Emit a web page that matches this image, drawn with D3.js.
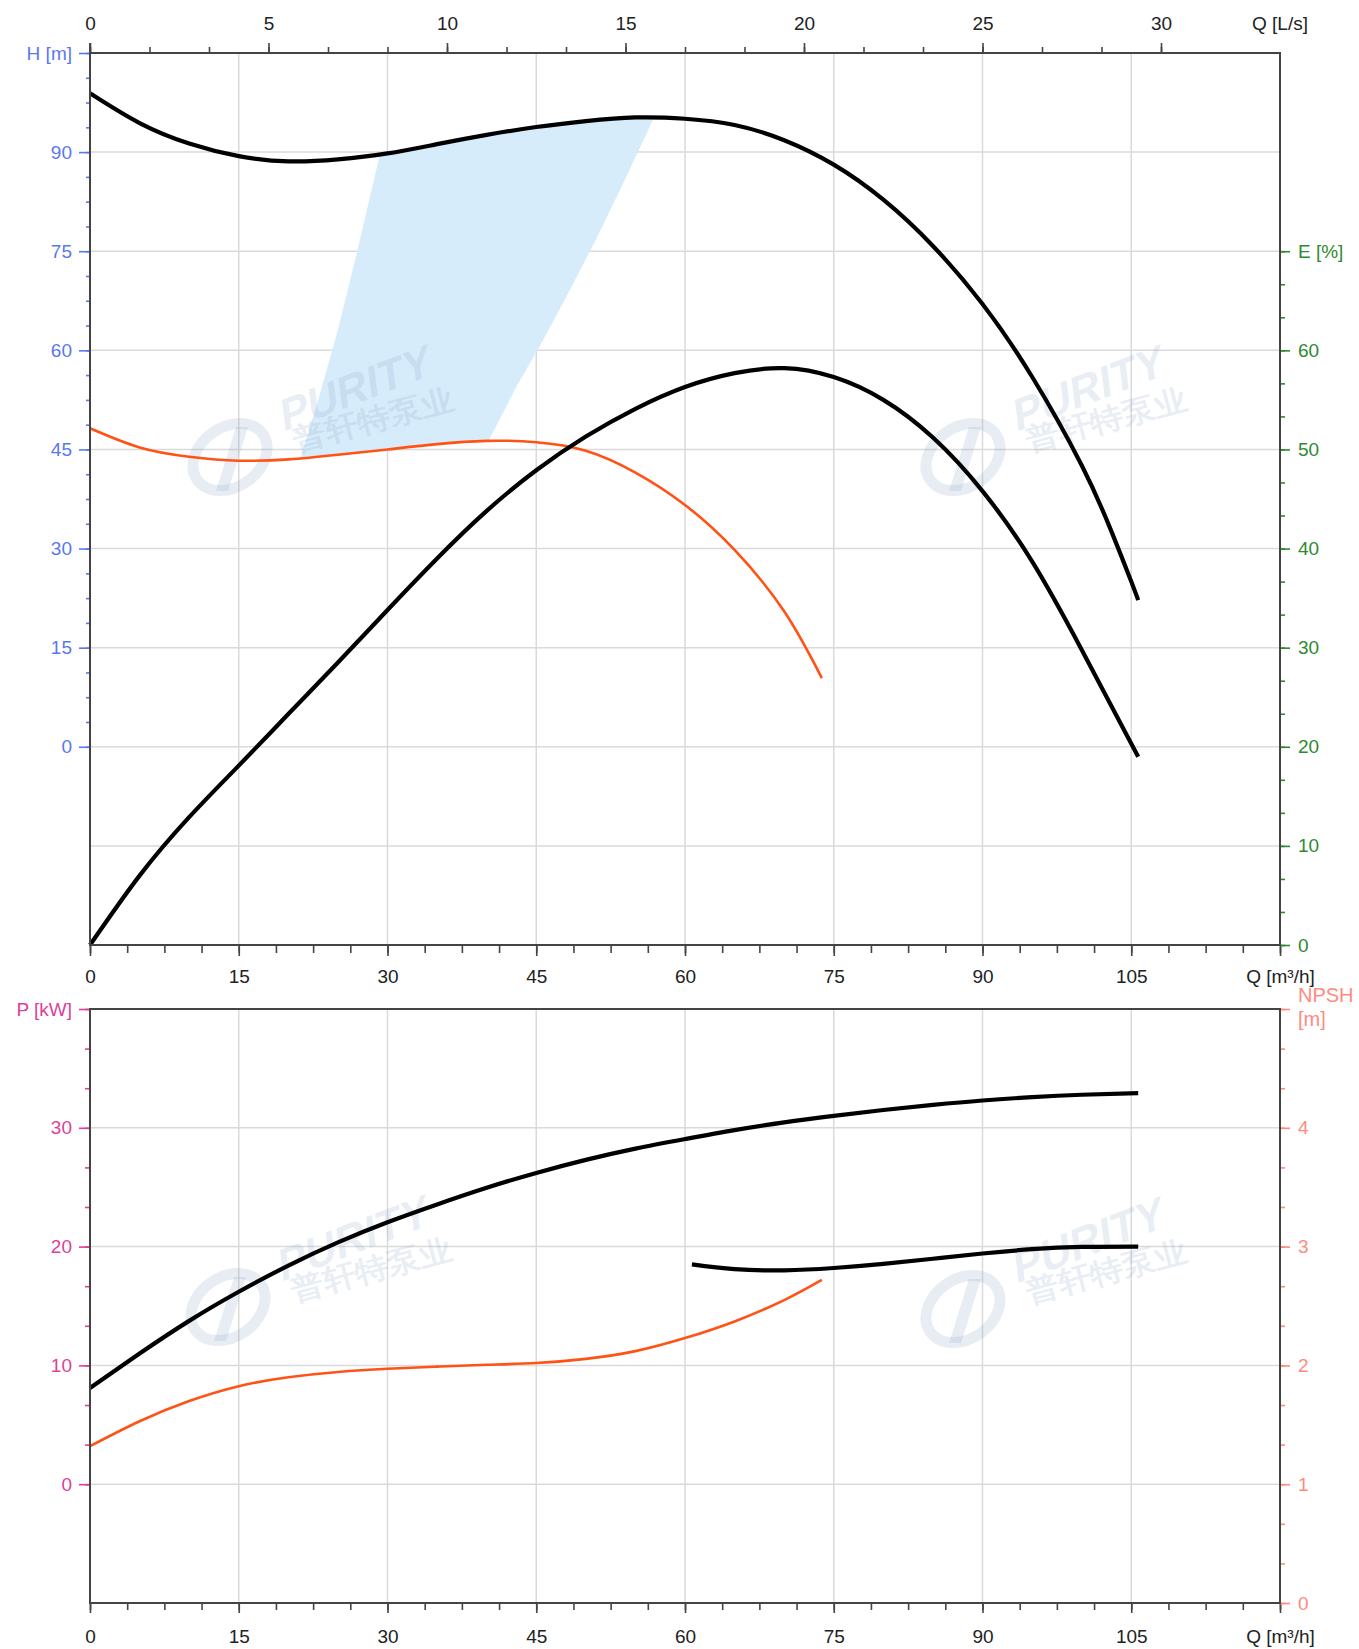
<!DOCTYPE html>
<html>
<head>
<meta charset="utf-8">
<script src="https://cdn.jsdelivr.net/npm/d3@7"></script>
<style>
  body { margin: 0; background: #fff; }
  text { font-family: "Liberation Sans", Arial, sans-serif; }
</style>
</head>
<body>
<div id="chart"></div>
<script>
// ---- data (Q in m3/h) ----
// head, full impeller (m)
const qHead = [0, 5, 10, 15, 20, 25, 30, 35, 40, 45, 50, 55, 60, 65, 70, 75, 80, 85, 90, 95, 100, 103, 105, 105.7];
const head = [98.9, 94.4, 91.3, 89.4, 88.6, 88.9, 89.8, 91.2, 92.6, 93.8, 94.7, 95.25, 95.05, 94.1, 91.8, 88.1, 82.8, 75.8, 67.0, 56.0, 42.6, 32.6, 25.0, 22.2];
// head, reduced impeller (m)
const qHeadMin = [0, 5, 10, 15, 20, 25, 30, 35, 40, 45, 50, 55, 60, 65, 70, 73.8];
const headMin = [48.2, 45.3, 43.9, 43.3, 43.5, 44.2, 45.0, 45.8, 46.3, 46.1, 44.8, 41.5, 36.6, 29.8, 20.5, 10.4];
// efficiency (%)
const qEff = [0, 5, 10, 15, 20, 25, 30, 35, 40, 45, 50, 55, 60, 65, 70, 75, 80, 85, 90, 95, 100, 105.7];
const eff = [0, 7.0, 12.9, 18.1, 23.3, 28.5, 33.8, 39.0, 43.8, 47.9, 51.3, 54.1, 56.3, 57.7, 58.2, 57.3, 55.0, 51.2, 45.8, 38.7, 29.8, 19.0];
// shaded operating zone (Q, H) outline
const zoneQ = [21.2, 23, 25, 27, 29.2, 30, 35, 40, 45, 50, 55, 56.9, 54, 51, 48, 45.6, 43, 40.2, 35, 30, 25, 21.2];
const zoneH = [43.6, 52.4, 63.1, 75.3, 89.5, 89.8, 91.2, 92.6, 93.8, 94.7, 95.25, 95.3, 86.0, 76.7, 68.0, 61.3, 54.5, 46.3, 45.8, 45.0, 44.2, 43.6];
// power (kW)
const qPow = [0, 5, 10, 15, 20, 25, 30, 35, 40, 45, 50, 55, 60, 65, 70, 75, 80, 85, 90, 95, 100, 105.7];
const pow = [8.1, 11.0, 13.75, 16.2, 18.4, 20.35, 22.05, 23.55, 24.95, 26.2, 27.3, 28.25, 29.05, 29.8, 30.45, 31.0, 31.5, 31.93, 32.3, 32.58, 32.78, 32.92];
const qPowMin = [0, 5, 10, 15, 20, 25, 30, 35, 40, 45, 50, 55, 60, 65, 70, 73.8];
const powMin = [3.2, 5.3, 7.0, 8.25, 9.0, 9.45, 9.72, 9.9, 10.05, 10.2, 10.55, 11.2, 12.3, 13.7, 15.5, 17.2];
// NPSH required (m)
const qNpsh = [60.7, 65, 70, 75, 80, 85, 90, 95, 100, 105.7];
const npsh = [2.85, 2.81, 2.80, 2.82, 2.855, 2.898, 2.942, 2.978, 2.997, 3.0];

// tick values
const qTicks = [0, 15, 30, 45, 60, 75, 90, 105, 120];
const lsTicks = [0, 5, 10, 15, 20, 25, 30];
const hTicks = [0, 15, 30, 45, 60, 75, 90, 105];
const eTicks = [0, 10, 20, 30, 40, 50, 60, 70];
const pTicks = [0, 10, 20, 30, 40];
const nTicks = [0, 1, 2, 3, 4, 5];

const blue = "#5a78ee", green = "#2f8a2f", magenta = "#dc3f9c", salmon = "#ff8a80";
const black = "#000", orange = "#ff5214", axisCol = "#444", gridCol = "#dadada";
const fs = 19;

const left = 90, right = 1280;
const top1 = 53, bot1 = 945, top2 = 1009, bot2 = 1603;

const svg = d3.select("#chart").append("svg")
  .attr("width", 1359).attr("height", 1649);

const x = d3.scaleLinear().domain([0, 120]).range([left, right]);
const xLs = d3.scaleLinear().domain([0, 120 / 3.6]).range([left, right]);
const yH = d3.scaleLinear().domain([-30, 105]).range([bot1, top1]);
const yE = d3.scaleLinear().domain([0, 90]).range([bot1, top1]);
const yP = d3.scaleLinear().domain([-10, 40]).range([bot2, top2]);
const yN = d3.scaleLinear().domain([0, 5]).range([bot2, top2]);

// grid
const grid = svg.append("g").attr("stroke", gridCol).attr("stroke-width", 1.5);
qTicks.slice(1, -1).forEach(q => {
  grid.append("line").attr("x1", x(q)).attr("x2", x(q)).attr("y1", top1).attr("y2", bot1);
  grid.append("line").attr("x1", x(q)).attr("x2", x(q)).attr("y1", top2).attr("y2", bot2);
});
[-15, 0, 15, 30, 45, 60, 75, 90].forEach(h => {
  grid.append("line").attr("x1", left).attr("x2", right).attr("y1", yH(h)).attr("y2", yH(h));
});
pTicks.slice(0, -1).forEach(p => {
  grid.append("line").attr("x1", left).attr("x2", right).attr("y1", yP(p)).attr("y2", yP(p));
});

// shaded zone
svg.append("path")
  .datum(zoneQ.map((q, i) => [q, zoneH[i]]))
  .attr("fill", "#d7ecfa")
  .attr("d", d3.line().x(d => x(d[0])).y(d => yH(d[1])).curve(d3.curveLinearClosed));

// watermark
const wm = "rgba(140,165,200,0.2)";
function watermark(cx, cy) {
  const w = svg.append("g").attr("transform", `translate(${cx},${cy})`).attr("fill", wm);
  w.append("ellipse").attr("rx", 40).attr("ry", 30).attr("transform", "rotate(-35)")
    .attr("fill", "none").attr("stroke", wm).attr("stroke-width", 11);
  w.append("path").attr("d", "M-14,34 L6,-30 L18,-30 L-2,34 Z");
  w.append("text").attr("transform", "translate(53,-25) rotate(-21) skewX(-14)")
    .attr("font-size", 44).attr("font-weight", "bold")
    .attr("textLength", 160).attr("lengthAdjust", "spacingAndGlyphs").text("PURITY");
  w.append("text").attr("transform", "translate(66,-6) rotate(-15)")
    .attr("font-size", 30).attr("font-weight", "bold")
    .attr("font-family", "'Noto Sans CJK SC', sans-serif")
    .attr("textLength", 166).attr("lengthAdjust", "spacingAndGlyphs").text("普轩特泵业");
}
watermark(230, 457);
watermark(963, 457);
watermark(228, 1307);
watermark(963, 1309);

// curves
function curve(qs, vs, yScale, color, width) {
  svg.append("path")
    .datum(qs.map((q, i) => [q, vs[i]]))
    .attr("fill", "none").attr("stroke", color).attr("stroke-width", width)
    .attr("d", d3.line().x(d => x(d[0])).y(d => yScale(d[1])).curve(d3.curveNatural));
}
curve(qHeadMin, headMin, yH, orange, 2.6);
curve(qHead, head, yH, black, 4.2);
curve(qEff, eff, yE, black, 4.2);
curve(qPowMin, powMin, yP, orange, 2.6);
curve(qPow, pow, yP, black, 4.2);
curve(qNpsh, npsh, yN, black, 4.2);

// axes
function styleAxis(g, color, textColor) {
  g.select(".domain").remove();
  g.attr("font-size", fs).attr("font-family", "'Liberation Sans', Arial, sans-serif");
  g.selectAll("line").attr("stroke", color).attr("stroke-width", 1.6);
  g.selectAll("text").attr("fill", textColor);
}
function minor(n, step) { return d3.range(n + 1).map(i => i * step); }

function axis(gen, tr, color, textColor) {
  svg.append("g").attr("transform", tr).call(gen).call(g => styleAxis(g, color, textColor));
}

// x axes (m3/h)
[[bot1, 11, 8, 14], [bot2, 10, 7, 17]].forEach(([yy, big, small, pad]) => {
  axis(d3.axisBottom(x).tickValues(minor(32, 3.75)).tickSize(small).tickFormat(""),
    `translate(0,${yy})`, axisCol, "#222");
  axis(d3.axisBottom(x).tickValues(qTicks).tickSize(big).tickPadding(pad)
    .tickFormat(d => d === 120 ? "Q [m³/h]" : d),
    `translate(0,${yy})`, axisCol, "#222");
});
// top x axis (L/s)
axis(d3.axisTop(xLs).tickValues(minor(18, 5 / 3)).tickSize(6).tickFormat(""),
  `translate(0,${top1})`, axisCol, "#222");
axis(d3.axisTop(xLs).tickValues(lsTicks).tickSize(10).tickPadding(13),
  `translate(0,${top1})`, axisCol, "#222");
svg.append("text").attr("x", right).attr("y", 30).attr("text-anchor", "middle")
  .attr("font-size", fs).attr("fill", "#222").text("Q [L/s]");

// H axis
axis(d3.axisLeft(yH).tickValues(minor(28, 3.75)).tickSize(4).tickFormat(""),
  `translate(${left},0)`, blue, blue);
axis(d3.axisLeft(yH).tickValues(hTicks).tickSize(11).tickPadding(7)
  .tickFormat(d => d === 105 ? "H [m]" : d), `translate(${left},0)`, blue, blue);
// E axis
axis(d3.axisRight(yE).tickValues(minor(21, 10 / 3)).tickSize(5).tickFormat(""),
  `translate(${right},0)`, green, green);
axis(d3.axisRight(yE).tickValues(eTicks).tickSize(10).tickPadding(8)
  .tickFormat(d => d === 70 ? "E [%]" : d), `translate(${right},0)`, green, green);
// P axis
axis(d3.axisLeft(yP).tickValues(minor(12, 10 / 3)).tickSize(5).tickFormat(""),
  `translate(${left},0)`, magenta, magenta);
axis(d3.axisLeft(yP).tickValues(pTicks).tickSize(11).tickPadding(7)
  .tickFormat(d => d === 40 ? "P [kW]" : d), `translate(${left},0)`, magenta, magenta);
// NPSH axis
axis(d3.axisRight(yN).tickValues(minor(15, 1 / 3)).tickSize(5).tickFormat(""),
  `translate(${right},0)`, salmon, salmon);
axis(d3.axisRight(yN).tickValues(nTicks).tickSize(10).tickPadding(8)
  .tickFormat(d => d === 5 ? "" : d), `translate(${right},0)`, salmon, salmon);
const nl = svg.append("text").attr("font-size", 20).attr("fill", salmon);
nl.append("tspan").attr("x", right + 18).attr("y", 1002).text("NPSH");
nl.append("tspan").attr("x", right + 18).attr("y", 1026).text("[m]");

// frames
const frame = svg.append("g").attr("stroke", axisCol).attr("stroke-width", 2).attr("fill", "none");
frame.append("rect").attr("x", left).attr("y", top1).attr("width", right - left).attr("height", bot1 - top1);
frame.append("rect").attr("x", left).attr("y", top2).attr("width", right - left).attr("height", bot2 - top2);
frame.append("line").attr("x1", left).attr("x2", left).attr("y1", top1 - 10).attr("y2", top1);
</script>
</body>
</html>
